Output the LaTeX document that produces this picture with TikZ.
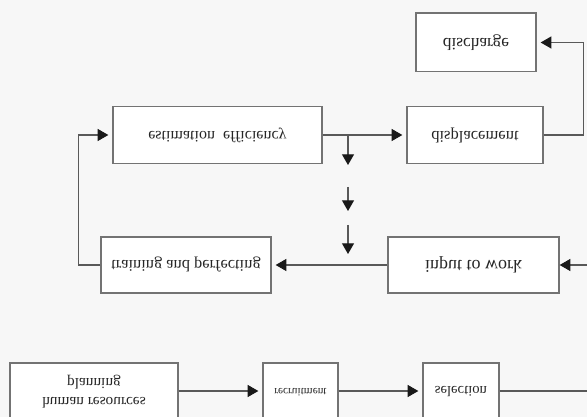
\documentclass[tikz,border=0pt]{standalone}
\usepackage{fontspec}
\setmainfont{Liberation Serif}
\usepackage{graphicx}
\usetikzlibrary{arrows.meta}
\newcommand{\flip}[1]{\scalebox{1}[-1]{#1}}
\begin{document}
\begin{tikzpicture}[x=0.75pt,y=-0.75pt,
  box/.style={draw=black!55, line width=1pt, fill=white, inner sep=0pt, text=black!85, align=center},
  conn/.style={draw=black!65, line width=0.8pt},
  arr/.style={conn, -{Triangle[length=8pt,width=9pt,color=black!90]}, shorten >=3pt}]
\fill[black!3] (0,0) rectangle (587,417);
\useasboundingbox (0,0) rectangle (587,417);
\begin{scope}
\clip (0,0) rectangle (587,417);
% nodes
\node[box, minimum width=90pt, minimum height=44pt] (dis) at (476,42.5) {\fontsize{13}{15}\selectfont\flip{discharge}};
\node[box, minimum width=156.75pt, minimum height=42.75pt] (est) at (217.5,135) {\fontsize{12}{14}\selectfont\flip{estimation\ \ efficiency}};
\node[box, minimum width=102pt, minimum height=42.75pt] (disp) at (475,135) {\fontsize{12.4}{14}\selectfont\flip{displacement}};
\node[box, minimum width=127.5pt, minimum height=42pt] (trn) at (186,265) {\fontsize{12.3}{14}\selectfont\flip{training and perfecting}};
\node[box, minimum width=128.25pt, minimum height=42pt] (inp) at (473.5,265) {\fontsize{13.5}{15}\selectfont\flip{input to work}};
\node[box, minimum width=126pt, minimum height=43.5pt] (pln) at (94,392) {\flip{\fontsize{11.5}{15}\selectfont\begin{tabular}{@{}c@{}}human resources\\[-1pt]planning\end{tabular}}};
\node[box, minimum width=56.25pt, minimum height=43.5pt] (rec) at (300.5,392) {\fontsize{8.5}{10}\selectfont\flip{recruitment}};
\node[box, minimum width=57pt, minimum height=43.5pt] (sel) at (461,392) {\fontsize{11}{13}\selectfont\flip{selection}};
% free-end coordinates
\coordinate (br) at (348,135);
\coordinate (d1) at (348,169);
\coordinate (d2s) at (348,187);
\coordinate (d2e) at (348,215);
\coordinate (d3s) at (348,225);
\coordinate (d3e) at (348,258);
\coordinate (inR) at (587,265);
\coordinate (selR) at (587,392);
% connectors
\draw[arr] (est.east) -- (disp.west);
\draw[arr] (br) -- (d1);
\draw[arr] (d2s) -- (d2e);
\draw[arr] (d3s) -- (d3e);
\draw[arr] (disp.east) -- ++(40,0) |- (dis.east);
\draw[arr, shorten >=0pt] (inR) -- (inp.east);
\draw[arr] (inp.west) -- (trn.east);
\draw[arr] (trn.west) -- ++(-22,0) |- (est.west);
\draw[arr] (pln.east |- 0,391) -- (rec.west |- 0,391);
\draw[arr] (rec.east |- 0,391) -- (sel.west |- 0,391);
\draw[conn] (sel.east |- 0,391) -- (selR |- 0,391);
\end{scope}
\end{tikzpicture}
\end{document}
